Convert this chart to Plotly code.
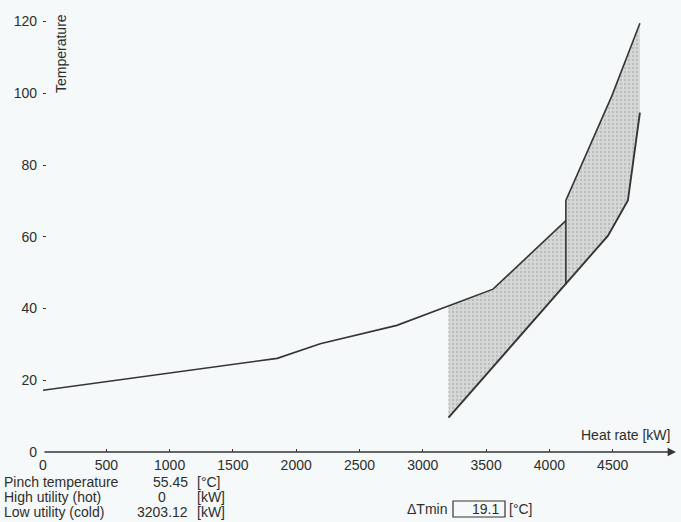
import numpy as np
import plotly.graph_objects as go

# Hot composite curve (below pinch part)
hot_q = [0, 1850, 2190, 2795, 3555, 4130]
hot_t = [17.2, 26.1, 30.2, 35.3, 45.4, 64.5]
# Hot composite curve (upper part)
hot2_q = [4130, 4495, 4715]
hot2_t = [70.1, 99.4, 119.5]
# Cold composite curve
cold_q = [3203, 4130, 4463, 4620, 4715]
cold_t = [9.6, 46.7, 60.3, 70.1, 94.6]

x_ticks = [0, 500, 1000, 1500, 2000, 2500, 3000, 3500, 4000, 4500]
y_ticks = [0, 20, 40, 60, 80, 100, 120]

pinch_temp = "55.45"
hot_util = "0"
cold_util = "3203.12"
dtmin = "19.1"

BG = "#f5f9f9"
LINE = "#353535"
FILL = "#d6d7d7"
FONT = "Liberation Sans, Arial, sans-serif"
TXT = "#2e2e2e"
FS = 14

W, H = 681, 522
L, R, T, B = 43, 5, 2, 70
XMAX = 5000
YMAX = (H - T - B) / 3.5875

fig = go.Figure()

pattern = dict(shape=".", bgcolor="#d7d8d8", fgcolor="#bcbdbd", size=4, solidity=0.3,
               fillmode="replace")

# Left shaded region
t_start = float(np.interp(cold_q[0], hot_q, hot_t))
lq = [cold_q[0]] + [q for q in hot_q if q > cold_q[0]]
lt = [t_start] + [t for q, t in zip(hot_q, hot_t) if q > cold_q[0]]
lq += [cold_q[1], cold_q[0], cold_q[0]]
lt += [cold_t[1], cold_t[0], t_start]
fig.add_trace(go.Scatter(x=lq, y=lt, mode="lines", fill="toself",
                         fillcolor=FILL, fillpattern=pattern,
                         line=dict(width=0), hoverinfo="skip"))
# Right shaded region
rq = [cold_q[1]] + hot2_q + [cold_q[4], cold_q[3], cold_q[2], cold_q[1]]
rt = [cold_t[1]] + hot2_t + [cold_t[4], cold_t[3], cold_t[2], cold_t[1]]
fig.add_trace(go.Scatter(x=rq, y=rt, mode="lines", fill="toself",
                         fillcolor=FILL, fillpattern=pattern,
                         line=dict(width=0), hoverinfo="skip"))

# Lines
fig.add_trace(go.Scatter(x=hot_q, y=hot_t, mode="lines",
                         line=dict(color=LINE, width=1.6)))
fig.add_trace(go.Scatter(x=[cold_q[1]] + hot2_q, y=[cold_t[1]] + hot2_t, mode="lines",
                         line=dict(color=LINE, width=1.6)))
fig.add_trace(go.Scatter(x=cold_q, y=cold_t, mode="lines",
                         line=dict(color=LINE, width=1.9)))

pw = W - L - R
ph = H - T - B


def px(x):
    return (x - L) / pw


def py(y):
    return (H - B - y) / ph


ann = []
# axis arrows
ann.append(dict(x=XMAX, y=0, ax=0, ay=0, xref="x", yref="y", axref="x", ayref="y",
                showarrow=True, arrowhead=2, arrowsize=1.2, arrowwidth=1.4,
                arrowcolor=LINE, text=""))
ann.append(dict(x=-8, y=YMAX, ax=-8, ay=0, xref="x", yref="y", axref="x", ayref="y",
                showarrow=True, arrowhead=2, arrowsize=1.2, arrowwidth=1.4,
                arrowcolor=LINE, text=""))


def txt(s, x, y, anchor="left", angle=0):
    ann.append(dict(text=s, x=px(x), y=py(y), xref="paper", yref="paper",
                    xanchor=anchor, yanchor="middle", showarrow=False,
                    textangle=angle, font=dict(family=FONT, size=FS, color=TXT)))


txt("Temperature", 61, 54, "center", -90)
txt("Heat rate [kW]", 672, 435, "right")
txt("Pinch temperature", 2, 482)
txt("High utility (hot)", 2, 497)
txt("Low utility (cold)", 2, 512)
txt(pinch_temp, 190, 482, "right")
txt(hot_util, 162, 497, "center")
txt(cold_util, 190, 512, "right")
txt("[°C]", 195, 482)
txt("[kW]", 195, 497)
txt("[kW]", 195, 512)
txt("ΔTmin", 405, 509)
txt(dtmin, 501, 509, "right")
txt("[°C]", 507, 509)

fig.update_layout(
    width=W, height=H,
    margin=dict(l=L, r=R, t=T, b=B, pad=0),
    paper_bgcolor=BG, plot_bgcolor=BG,
    showlegend=False,
    annotations=ann,
    shapes=[dict(type="rect", xref="paper", yref="paper",
                 x0=px(453), x1=px(505), y0=py(501), y1=py(517),
                 line=dict(color=LINE, width=1.2))],
    xaxis=dict(range=[0, XMAX], tickvals=x_ticks, ticks="inside", ticklen=3,
               tickcolor=LINE, showline=False, zeroline=False, showgrid=False,
               automargin=False, ticklabelstandoff=3,
               tickfont=dict(family=FONT, size=FS, color=TXT)),
    yaxis=dict(range=[0, YMAX], tickvals=y_ticks, ticks="inside", ticklen=3,
               tickcolor=LINE, showline=False, zeroline=False, showgrid=False,
               automargin=False, ticklabelstandoff=5,
               tickfont=dict(family=FONT, size=FS, color=TXT)),
)

fig.write_html(
    "out.html",
    config={"displayModeBar": False},
    post_script="document.body.style.margin='0';document.body.style.background='%s';" % BG,
)
